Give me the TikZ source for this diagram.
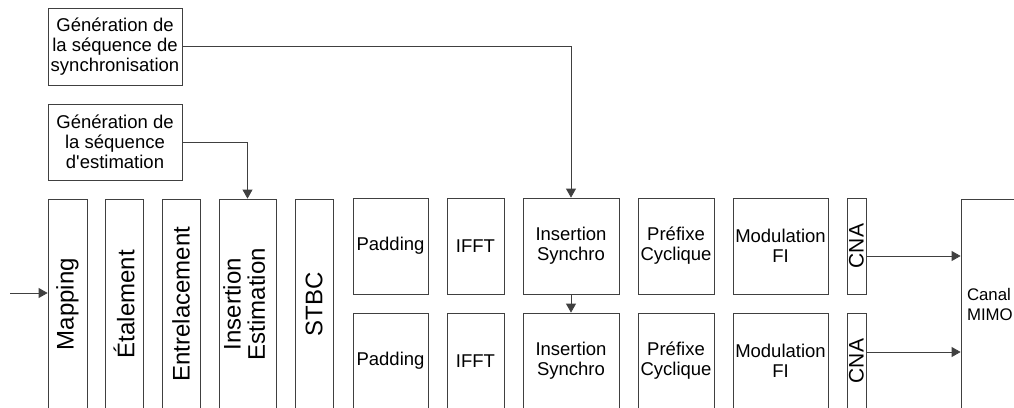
\documentclass[tikz,border=0pt]{standalone}
\usepackage{fontspec}
\setmainfont{Liberation Sans}
\usetikzlibrary{arrows.meta,positioning}
\definecolor{trait}{HTML}{404040}

\tikzset{
  blk/.style={draw=trait, line width=0.8pt, rectangle, inner sep=0pt, align=center,
    font=\fontsize{18.5}{20}\selectfont},
  rblk/.style={blk, minimum height=96pt},
  vblk/.style={blk, minimum height=210pt, font=\fontsize{24}{23}\selectfont},
  fl/.style={draw=trait, line width=0.8pt, -{Triangle[length=9pt,width=10pt]}},
}

\begin{document}
\begin{tikzpicture}[x=1pt,y=-1pt]
  \useasboundingbox (0,0) rectangle (1014,407);
  \clip (0,0) rectangle (1014,407);

  % Generation of the sequences
  \node[blk, minimum width=134pt, minimum height=77pt] (gsync) at (115,46.5)
    {Génération de\\la séquence de\\synchronisation};
  \node[blk, minimum width=134pt, minimum height=76pt] (gest) at (115,142)
    {Génération de\\la séquence\\d\textquotesingle estimation};

  % Common chain
  \foreach \n/\x/\w/\t in {map/67.5/39/Mapping, etal/124/38/Étalement,
                           entr/181/38/Entrelacement, stbc/314/38/STBC} {
    \node[vblk, minimum width=\w pt] (\n) at (\x,304) {\rotatebox{90}{\t}};
  }
  \node[vblk, minimum width=57pt] (inse) at (247.5,304)
    {\rotatebox{90}{\begin{tabular}{@{}c@{}}Insertion\\Estimation\end{tabular}}};

  % One row per antenna
  \foreach \r/\y in {1/246,2/361} {
    \node[rblk, minimum width=75pt] (pad\r) at (390.5,\y) {Padding};
    \node[rblk, minimum width=57pt] (ifft\r) at (475.5,\y) {IFFT};
    \node[rblk, minimum width=96pt] (insy\r) at (571,\y) {Insertion\\Synchro};
    \node[rblk, minimum width=76pt] (pref\r) at (676,\y) {Préfixe\\Cyclique};
    \node[rblk, minimum width=95pt] (modf\r) at (780.5,\y) {Modulation\\FI};
    \node[rblk, minimum width=19pt, font=\fontsize{21}{21}\selectfont] (cna\r)
      at (856.5,\y) {\rotatebox{90}{CNA}};
  }

  % Channel
  \node[blk, minimum width=100pt, minimum height=210pt, text width=88pt, align=left,
    font=\fontsize{16.8}{20}\selectfont] (canal) at (1011,304) {Canal\\MIMO};

  % Connections
  \coordinate (entree) at (10,293);
  \draw[fl] (entree) -- (entree -| map.west);
  \draw[fl] (gest.east) -| (inse.north);
  \draw[fl] (gsync.east) -| (insy1.north);
  \draw[fl] (insy1.south) -- (insy2.north);
  \foreach \r/\d in {1/-10,2/9} {
    \draw[fl] ([yshift=\d pt]cna\r.east) -- ([yshift=\d pt]cna\r.east -| canal.west);
  }
\end{tikzpicture}
\end{document}
